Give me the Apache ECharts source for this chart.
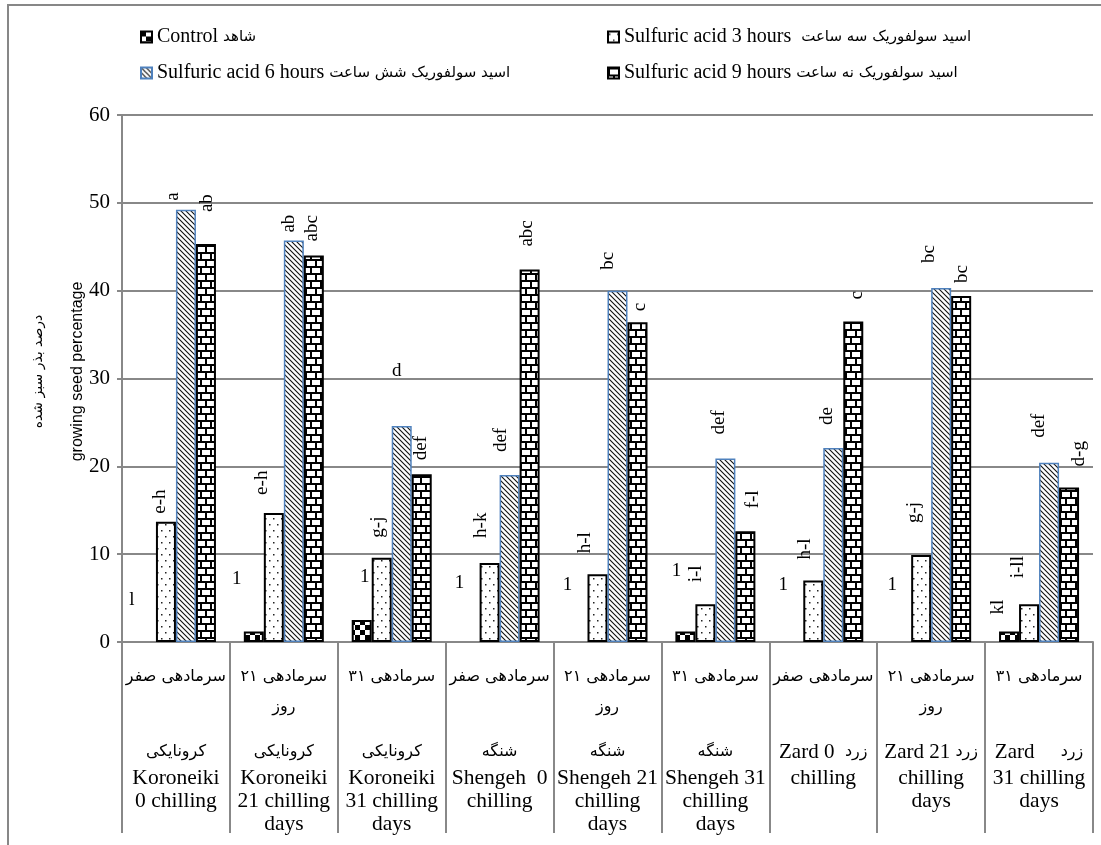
<!DOCTYPE html>
<html><head><meta charset="utf-8">
<script src="https://cdn.jsdelivr.net/npm/echarts@6/dist/echarts.min.js"></script>
<style>html,body{margin:0;padding:0;background:#fff}#c{width:1101px;height:845px}</style>
</head><body><div id="c"></div>
<script>
// ---------- data ----------
const catNames = ['Koroneiki 0 chilling','Koroneiki 21 chilling days','Koroneiki 31 chilling days','Shengeh 0 chilling','Shengeh 21 chilling days','Shengeh 31 chilling days','Zard 0 chilling','Zard 21 chilling days','Zard 31 chilling days'];
const catTreatFa = ['سرمادهی صفر','سرمادهی ۲۱','سرمادهی ۳۱','سرمادهی صفر','سرمادهی ۲۱','سرمادهی ۳۱','سرمادهی صفر','سرمادهی ۲۱','سرمادهی ۳۱'];
const catTreatFa2 = ['','روز','','','روز','','','روز',''];
const catCultivarFa = ['کرونایکی','کرونایکی','کرونایکی','شنگه','شنگه','شنگه','زرد','زرد','زرد'];
const catCultivarEnInline = ['','','','','','','Zard 0  ','Zard 21 ','Zard     '];
const catEnLines = [['Koroneiki','0 chilling'],['Koroneiki','21 chilling','days'],['Koroneiki','31 chilling','days'],['Shengeh  0','chilling'],['Shengeh 21','chilling','days'],['Shengeh 31','chilling','days'],['chilling'],['chilling','days'],['31 chilling','days']];

const legendEn = ['Control','Sulfuric acid 3 hours ','Sulfuric acid 6 hours','Sulfuric acid 9 hours'];
const legendFa = ['شاهد','اسید سولفوریک سه ساعت','اسید سولفوریک شش ساعت','اسید سولفوریک نه ساعت'];

const valControl = [0, 1.2, 2.5, 0, 0, 1.2, 0, 0, 1.2];
const valH3 = [13.7, 14.7, 9.6, 9.0, 7.7, 4.3, 7.0, 9.9, 4.3];
const valH6 = [49.2, 45.7, 24.6, 19.0, 40.0, 20.9, 22.1, 40.3, 20.4];
const valH9 = [45.3, 44.0, 19.1, 42.4, 36.4, 12.6, 36.5, 39.4, 17.6];

const lblControl = ['l','1','1','1','1','1','1','1','kl'];
const lblH3 = ['e-h','e-h','g-j','h-k','h-l','i-l','h-l','g-j','i-ll'];
const lblH6 = ['a','ab','d','def','bc','def','de','bc','def'];
const lblH9 = ['ab','abc','def','abc','c','f-l','c','bc','d-g'];

const yTicks = [0,10,20,30,40,50,60];

// ---------- label placement (style only) ----------
const nudgeControl = [{u:1,d:42,x:-14},{u:1,d:52,x:-17},{u:1,d:43,x:3},{u:1,d:59,x:-10},{u:1,d:57,x:-10},{u:1,d:60,x:-9},{u:1,d:57,x:-10},{u:1,d:57,x:-9},{d:17,x:-11}];
const nudgeH3 = [{d:8,x:-6},{d:18,x:-12},{d:20,x:-4},{d:25,x:-9},{d:21,x:-12},{d:22,x:-9},{d:21,x:-8},{d:32,x:-7},{d:26,x:-11}];
const nudgeH6 = [{d:9,x:-13},{d:8,x:-5},{u:1,d:55,x:-5},{d:23,x:-9},{d:21,x:-9},{d:24,x:-6},{d:23,x:-6},{d:25,x:-12},{d:25,x:-10}];
const nudgeH9 = [{d:32,x:1},{d:14,x:-2},{d:14,x:-1},{d:23,x:-3},{d:11,x:3},{d:23,x:8},{d:22,x:4},{d:13,x:1},{d:21,x:10}];

// ---------- patterns ----------
function tile(w, h, draw) {
  const c = document.createElement('canvas'); c.width = w; c.height = h;
  const g = c.getContext('2d'); g.fillStyle = '#fff'; g.fillRect(0, 0, w, h); draw(g); return c;
}
const patChecker = tile(10, 10, g => { g.fillStyle = '#000'; g.fillRect(0,0,5,5); g.fillRect(5,5,5,5); });
const patDots = tile(8, 12, g => { g.fillStyle = '#222'; g.fillRect(1,2,1.5,1.5); g.fillRect(5,8,1.5,1.5); });
const patHatch = tile(5, 5, g => { g.strokeStyle = '#111'; g.lineWidth = 1.1; g.beginPath();
  g.moveTo(-1,-1); g.lineTo(6,6); g.moveTo(-1,4); g.lineTo(1,6); g.moveTo(4,-1); g.lineTo(6,1); g.stroke(); });
const patBrick = tile(10, 14, g => { g.fillStyle = '#000'; g.fillRect(0,0,10,2); g.fillRect(0,7,10,2); g.fillRect(0,0,2,7); g.fillRect(5,7,2,7); });

const SERIF = "'Liberation Serif', 'Times New Roman', serif";
const FA = "'DejaVu Sans', sans-serif";

function buildData(vals, lbls, nudges) {
  return vals.map((v, i) => {
    const n = nudges[i];
    const lab = { formatter: lbls[i], distance: n.d };
    if (n.u) { lab.rotate = 0; lab.align = 'center'; lab.verticalAlign = 'middle'; lab.offset = [n.x, 0]; }
    else { lab.offset = [0, n.x]; }
    const item = { value: v, label: lab };
    if (v === 0) item.itemStyle = { borderWidth: 0 };
    return item;
  });
}

const seriesDefs = [
  { vals: valControl, lbls: lblControl, nud: nudgeControl, pat: patChecker, border: '#000', bw: 2 },
  { vals: valH3, lbls: lblH3, nud: nudgeH3, pat: patDots, border: '#000', bw: 2 },
  { vals: valH6, lbls: lblH6, nud: nudgeH6, pat: patHatch, border: '#4f81bd', bw: 1.5 },
  { vals: valH9, lbls: lblH9, nud: nudgeH9, pat: patBrick, border: '#000', bw: 2 }
];
const seriesNames = legendEn.map((e, i) => e.trim() + ' ' + legendFa[i]);

const series = seriesDefs.map((s, i) => ({
  name: seriesNames[i], type: 'bar', barWidth: 20, barGap: '0%',
  itemStyle: { color: { image: s.pat, repeat: 'repeat' }, borderColor: s.border, borderWidth: s.bw },
  label: { show: true, position: 'top', rotate: 90, align: 'left', verticalAlign: 'middle',
           fontFamily: SERIF, fontSize: 19, color: '#000' },
  emphasis: { disabled: true },
  data: buildData(s.vals, s.lbls, s.nud)
}));

const legendPos = [[140, 27], [607, 27], [140, 63], [607, 63]];
const legends = seriesNames.map((n, i) => ({
  data: [n], left: legendPos[i][0], top: legendPos[i][1], padding: 0, itemGap: 0,
  itemWidth: 11, itemHeight: 11, icon: 'rect', selectedMode: false,
  formatter: () => '{en|' + legendEn[i] + ' }{fa|' + legendFa[i] + '}',
  textStyle: { rich: {
    en: { fontFamily: SERIF, fontSize: 20, color: '#000', lineHeight: 22 },
    fa: { fontFamily: FA, fontSize: 15, color: '#000', lineHeight: 22 }
  } }
}));

function catLabel(value, i) {
  let s = '{fa|' + catTreatFa[i] + '}\n{fa|' + (catTreatFa2[i] || ' ') + '}\n{gap| }\n';
  if (catCultivarEnInline[i]) s += '{mx|' + catCultivarEnInline[i] + '}{fa|' + catCultivarFa[i] + '}';
  else s += '{fa|' + catCultivarFa[i] + '}';
  catEnLines[i].forEach(l => { s += '\n{en|' + l + '}'; });
  return s;
}

const option = {
  animation: false,
  backgroundColor: '#fff',
  graphic: [{ type: 'rect', shape: { x: 8, y: 5, width: 1200, height: 1000 }, silent: true,
              style: { fill: 'none', stroke: '#878787', lineWidth: 2 } }],
  legend: legends,
  grid: { left: 122, right: 8, top: 115, bottom: 203 },
  xAxis: {
    type: 'category', data: catNames,
    axisLine: { lineStyle: { color: '#888', width: 2 } },
    axisTick: { show: true, length: 191, lineStyle: { color: '#888', width: 2 } },
    axisLabel: { interval: 0, margin: 20, color: '#000', formatter: catLabel,
      rich: {
        fa: { fontFamily: FA, fontSize: 16, lineHeight: 30, color: '#000' },
        gap: { fontSize: 2, lineHeight: 15 },
        mx: { fontFamily: SERIF, fontSize: 21, lineHeight: 30, color: '#000' },
        en: { fontFamily: SERIF, fontSize: 21.5, lineHeight: 23, color: '#000' }
      } }
  },
  yAxis: {
    type: 'value', min: yTicks[0], max: yTicks[yTicks.length - 1], interval: 10,
    axisLine: { show: true, lineStyle: { color: '#888', width: 2 } },
    axisTick: { show: true, length: 5, lineStyle: { color: '#888', width: 2 } },
    splitLine: { lineStyle: { color: '#888', width: 2 } },
    axisLabel: { fontFamily: SERIF, fontSize: 21, color: '#000', margin: 12 },
    name: '{fa|درصد بذر سبز شده}\n{en|growing seed percentage}',
    nameLocation: 'middle', nameRotate: 90, nameGap: 25, nameMoveOverlap: false,
    nameTextStyle: { padding: [0, 0, 0, 14], rich: {
      fa: { fontFamily: FA, fontSize: 14, lineHeight: 39, color: '#000' },
      en: { fontFamily: "'Liberation Sans', Arial, sans-serif", fontSize: 16, lineHeight: 39, color: '#000' }
    } }
  },
  series: series
};
const chart = echarts.init(document.getElementById('c'), null, { renderer: 'canvas' });
chart.setOption(option);
</script></body></html>
